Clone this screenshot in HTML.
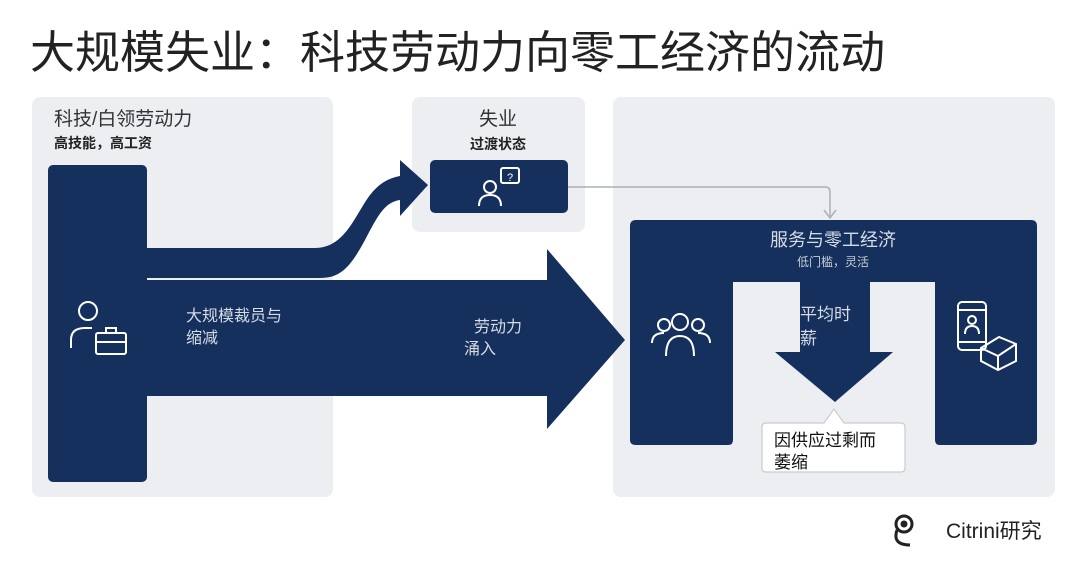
<!DOCTYPE html>
<html><head><meta charset="utf-8"><style>
body{margin:0;width:1080px;height:562px;background:#fff;overflow:hidden;font-family:"Liberation Sans","Noto Sans CJK SC",sans-serif;}
svg{position:absolute;left:0;top:0}
</style></head><body>
<svg width="1080" height="562" viewBox="0 0 1080 562" font-family="Liberation Sans, Noto Sans CJK SC, sans-serif">
<text x="30" y="68" font-size="45" fill="#222">大规模失业：科技劳动力向零工经济的流动</text>
<rect x="32" y="97" width="301" height="400" rx="8" fill="#eceef2"/>
<rect x="412" y="97" width="173" height="135" rx="8" fill="#eceef2"/>
<rect x="613" y="97" width="442" height="400" rx="8" fill="#eceef2"/>
<text x="54" y="125" font-size="19" fill="#333">科技/白领劳动力</text>
<text x="54" y="148" font-size="14" font-weight="bold" fill="#222">高技能，高工资</text>
<text x="498" y="125" font-size="19" fill="#333" text-anchor="middle">失业</text>
<text x="498" y="149" font-size="14" font-weight="bold" fill="#222" text-anchor="middle">过渡状态</text>
<g fill="#15305c">
<rect x="48" y="165" width="99" height="317" rx="5"/>
<rect x="430" y="160" width="138" height="53" rx="5"/>
<path d="M147,248 L315,248 C345,248 355,215 370,195 C380,182 390,178 400,176 L400,160 L428,185 L400,216 L400,200 C385,202 378,215 365,240 C350,268 340,278 320,278 L147,278 Z"/>
<path d="M147,280 L547,280 L547,249 L625,340 L547,429 L547,396 L147,396 Z"/>
<path d="M630,226 Q630,220 636,220 L1031,220 Q1037,220 1037,226 L1037,440 Q1037,445 1031,445 L940,445 Q935,445 935,440 L935,282 L870,282 L870,352 L893,352 L835,402 L775,352 L800,352 L800,282 L733,282 L733,440 Q733,445 728,445 L636,445 Q630,445 630,440 Z"/>
</g>
<path d="M568,187 L825,187 Q830,187 830,192 L830,216" fill="none" stroke="#aab0b8" stroke-width="1.5"/>
<path d="M824,210 L830,218 L836,210" fill="none" stroke="#aab0b8" stroke-width="1.5"/>
<g fill="none" stroke="#fff" stroke-width="2">
<circle cx="88" cy="311" r="9"/>
<path d="M71,348 L71,340 Q71,328 85,328 L92,328"/>
<rect x="96" y="333" width="30" height="21" rx="2"/><path d="M106,333 L106,328 L116,328 L116,333 M96,342 L126,342"/>
<circle cx="490" cy="187" r="6"/><path d="M479,206 Q479,195 490,195 Q501,195 501,206"/>
<rect x="501" y="168" width="18" height="15" rx="2"/>
<circle cx="664" cy="325" r="6"/><circle cx="680" cy="322" r="8"/><circle cx="698" cy="325" r="6"/>
<path d="M652,343 Q652,333 664,333 M710,343 Q710,333 698,333 M666,356 Q666,336 680,336 Q694,336 694,356"/>
<rect x="958" y="302" width="28" height="48" rx="4"/><path d="M958,310 L986,310 M958,342 L986,342"/>
<circle cx="972" cy="320" r="4"/><path d="M965,334 Q965,326 972,326 Q979,326 979,334"/>
<path d="M981,348 L999,337 L1016,344 L1016,361 L998,370 L981,361 Z M981,348 L998,356 L1016,344 M998,356 L998,370"/>
</g>
<text x="510" y="181" font-size="11" fill="#fff" text-anchor="middle">?</text>
<g fill="#d6dbe4" font-size="16">
<text x="186" y="321">大规模裁员与</text><text x="186" y="343">缩减</text>
<text x="474" y="332">劳动力</text><text x="464" y="354">涌入</text>
<text x="800" y="320" font-size="17">平均时</text><text x="800" y="344" font-size="17">薪</text>
</g>
<text x="833" y="246" font-size="18" fill="#d6dbe4" text-anchor="middle">服务与零工经济</text>
<text x="833" y="266" font-size="12" fill="#c6ccd6" text-anchor="middle">低门槛，灵活</text>
<path d="M762,427 Q762,423 766,423 L824,423 L834,409 L844,423 L901,423 Q905,423 905,427 L905,468 Q905,472 901,472 L766,472 Q762,472 762,468 Z" fill="#fff" stroke="#c8ccd2" stroke-width="1.2"/>
<text x="774" y="446" font-size="17" fill="#111">因供应过剩而</text>
<text x="774" y="468" font-size="17" fill="#111">萎缩</text>
<g fill="none" stroke="#222" stroke-width="3">
<circle cx="904" cy="524" r="8"/><path d="M897,530 Q892,545 910,545"/><circle cx="904" cy="524" r="2" fill="#222"/>
</g>
<text x="946" y="538" font-size="21" fill="#222">Citrini研究</text>
</svg>
</body></html>
